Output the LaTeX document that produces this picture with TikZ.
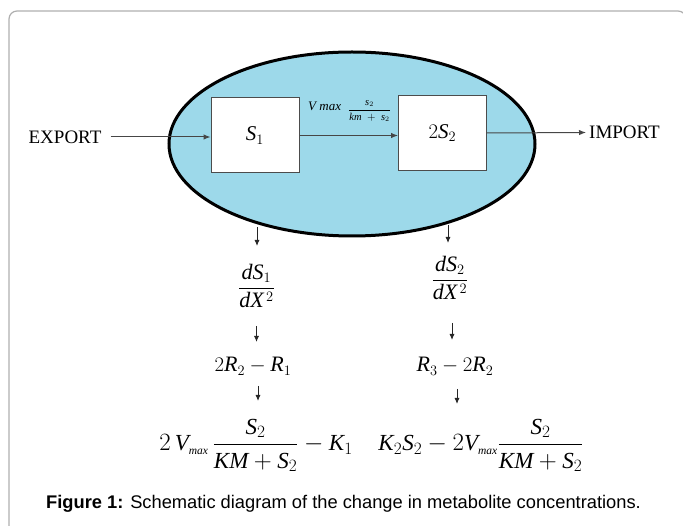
\documentclass[tikz,border=0pt]{standalone}
\usepackage{amsmath}
\usepackage{fontspec}
\setmainfont{Liberation Serif}
\newfontfamily\capfont{Liberation Sans}
\newfontfamily\timesfam[NFSSFamily=ltimes]{Liberation Serif}
\DeclareSymbolFont{tletters}{TU}{ltimes}{m}{it}
\DeclareSymbolFont{tdigits}{TU}{ltimes}{m}{n}
\newcommand\mkit[1]{\DeclareMathSymbol{#1}{\mathalpha}{tletters}{`#1}}
\newcommand\mkdg[1]{\DeclareMathSymbol{#1}{\mathalpha}{tdigits}{`#1}}
\mkit a \mkit d \mkit k \mkit m \mkit s \mkit x \mkit K \mkit M \mkit R \mkit S \mkit V \mkit X
\mkdg 1 \mkdg 2 \mkdg 3
\usetikzlibrary{shapes.geometric,arrows.meta}
\definecolor{cellblue}{RGB}{157,217,234}
\definecolor{linegray}{RGB}{70,70,70}
\definecolor{framegray}{RGB}{175,175,175}
\tikzset{
 flow/.style={draw=linegray, line width=1pt, -{Latex[length=7pt,width=5.5pt]}},
 down/.style={draw=black!85, line width=0.9pt, -{Latex[length=6pt,width=5pt]}},
 box/.style={draw=black!70, line width=1pt, fill=white, minimum width=88pt, minimum height=75pt, inner sep=0pt, font=\fontsize{21}{24}\selectfont},
 lbl/.style={font=\fontsize{19}{22}\selectfont, inner sep=0pt},
 eq/.style={font=\fontsize{22}{26}\selectfont, inner sep=0pt, anchor=base},
 bigeq/.style={eq, font=\fontsize{23}{27}\selectfont},
}
\begin{document}
\begin{tikzpicture}[x=1pt,y=-1pt]
\useasboundingbox (0,0) rectangle (683,526);
\begin{scope}
\clip (0,0) rectangle (683,526);
\draw[framegray, line width=1.2pt, rounded corners=8pt] (9,540) -- (9,11) -- (686,11) -- (686,540);
\end{scope}
% cell
\node[ellipse, draw=black, line width=3pt, fill=cellblue, minimum width=366pt, minimum height=184pt, inner sep=0pt] (ell) at (352,144) {};
\node[box] (s1) at (255,135.5) {$S_1$};
\node[box] (s2) at (442.5,133) {$2S_2$};
\node[lbl] (exp) at (65,137) {EXPORT};
\node[lbl,anchor=west] (imp) at (589,132.5) {IMPORT};
\draw[flow, shorten <=9pt] (exp.east) -- (s1.west |- exp.east);
\draw[flow] (s1.east) -- (s1.east -| s2.west);
\draw[flow, shorten >=3pt] (s2.east) -- (imp.west);
\node[font=\fontsize{13}{15}\selectfont, inner sep=0pt, anchor=base west] (vm) at (308,111) {$V\ max$};
\node[font=\fontsize{10.5}{12}\selectfont, inner sep=0pt] (fr) at (369.5,111) {$\dfrac{s_2}{km\;+\;s_2}$};
% left column
\coordinate (l0) at (257,227);
\coordinate (l1) at (257,246);
\coordinate (l2a) at (256.5,326);
\coordinate (l2b) at (256.5,342);
\coordinate (l3a) at (258,386);
\coordinate (l3b) at (258,401);
\draw[down] (l0) -- (l1);
\draw[down] (l2a) -- (l2b);
\draw[down] (l3a) -- (l3b);
\node[eq] (d1) at (256.5,293.5) {$\dfrac{dS_1}{dX^{\,2}}$};
\node[eq] (r1) at (253,372) {$2R_2-R_1$};
\node[bigeq] (f1) at (256,451) {$2\,V_{\scriptscriptstyle max}\,\dfrac{S_2}{KM+S_2}-K_1$};
% right column
\coordinate (m0) at (448,225);
\coordinate (m1) at (448,243);
\coordinate (m2a) at (452,323);
\coordinate (m2b) at (452,340);
\coordinate (m3a) at (457,389);
\coordinate (m3b) at (457,404);
\draw[down] (m0) -- (m1);
\draw[down] (m2a) -- (m2b);
\draw[down] (m3a) -- (m3b);
\node[eq] (d2) at (450,285.5) {$\dfrac{dS_2}{dX^{\,2}}$};
\node[eq] (r2) at (455,372) {$R_3-2R_2$};
\node[bigeq] (f2) at (481,451) {$K_2S_2-2V_{\scriptscriptstyle max}\dfrac{S_2}{KM+S_2}$};
% caption
\node[font=\capfont\fontsize{18.3}{22}\selectfont, anchor=base west, inner sep=0pt] (cap) at (46,508) {\textbf{Figure 1:} Schematic diagram of the change in metabolite concentrations.};
\end{tikzpicture}
\end{document}
